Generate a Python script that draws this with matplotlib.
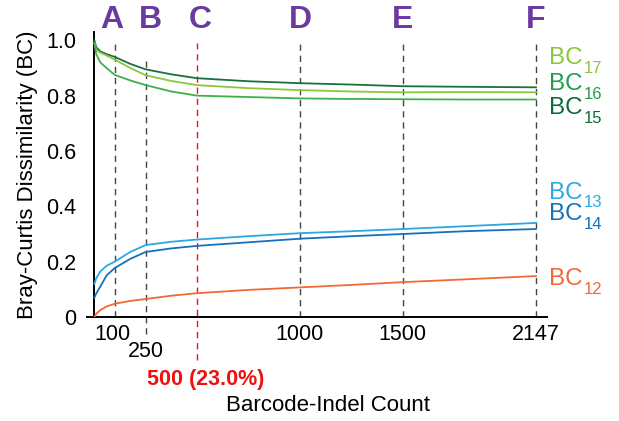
import matplotlib
matplotlib.use("Agg")
import matplotlib.pyplot as plt

plt.rcParams['font.family'] = ['Liberation Sans', 'DejaVu Sans']

# ---- data ----
counts = [1, 10, 30, 60, 100, 175, 250, 375, 500, 750, 1000, 1250, 1500, 1800, 2147]
bc_dark_green = [1.0, 0.975, 0.96, 0.95, 0.94, 0.915, 0.895, 0.877, 0.863, 0.852, 0.845, 0.84, 0.834, 0.832, 0.83]
bc_light_green = [0.99, 0.965, 0.955, 0.945, 0.93, 0.90, 0.874, 0.853, 0.838, 0.827, 0.82, 0.815, 0.812, 0.813, 0.812]
bc_mid_green = [0.99, 0.95, 0.92, 0.90, 0.875, 0.855, 0.838, 0.815, 0.80, 0.795, 0.79, 0.788, 0.787, 0.786, 0.786]
bc13 = [0.12, 0.14, 0.165, 0.185, 0.20, 0.235, 0.26, 0.272, 0.28, 0.292, 0.303, 0.31, 0.318, 0.328, 0.34]
bc14 = [0.07, 0.085, 0.11, 0.15, 0.177, 0.21, 0.235, 0.248, 0.257, 0.27, 0.283, 0.292, 0.30, 0.31, 0.318]
bc12 = [0.0, 0.012, 0.025, 0.038, 0.048, 0.058, 0.065, 0.077, 0.086, 0.098, 0.107, 0.116, 0.126, 0.136, 0.148]

cut_positions = [100, 250, 500, 1000, 1500, 2147]
cut_letters = ['A', 'B', 'C', 'D', 'E', 'F']
cut_labels = ['100', '250', '500 (23.0%)', '1000', '1500', '2147']
yticks = [0, 0.2, 0.4, 0.6, 0.8, 1.0]
ytick_labels = ['0', '0.2', '0.4', '0.6', '0.8', '1.0']

series = [
    (bc_dark_green, '#17703f'),
    (bc_light_green, '#8cc63e'),
    (bc_mid_green, '#3db04b'),
    (bc13, '#2aa9e0'),
    (bc14, '#1670bb'),
    (bc12, '#f26836'),
]
right_labels = [
    ('17', '#8cc63e', 0.913),
    ('16', '#1d9e4a', 0.821),
    ('15', '#0e6b37', 0.733),
    ('13', '#2aa9e0', 0.428),
    ('14', '#1670bb', 0.350),
    ('12', '#f26836', 0.1155),
]

fig = plt.figure(figsize=(6.19, 4.21), dpi=100)
ax = fig.add_axes([0.1405, 0.247, 0.743, 0.677])
ax.set_xlim(-35, 2200)
ax.set_ylim(0, 1.03)

dash = (0, (4.5, 3.5))
purple = '#6b3a9e'
red = '#f01010'
letter_dx = {'A': -15, 'B': 25, 'C': 15}
for x, letter in zip(cut_positions, cut_letters):
    is_red = (x == 500)
    col = red if is_red else '#444444'
    if letter == 'B':
        y0, y1 = -0.06, 0.93
    elif is_red:
        y0, y1 = -0.155, 0.99
    else:
        y0, y1 = 0, 0.99
    ax.plot([x, x], [y0, y1], color=col, lw=1.0, linestyle=dash, clip_on=False, zorder=1)
    ax.text(x + letter_dx.get(letter, 0), 1.072, letter, color=purple, fontsize=23,
            fontweight='bold', ha='center', va='center', clip_on=False)

for vals, col in series:
    ax.plot(counts, vals, color=col, lw=1.3, zorder=3)

main_fs = 17.4
x_off = 9.5
for sub, col, yb in right_labels:
    ax.annotate('BC', xy=(counts[-1], yb), xytext=(x_off, 0),
                textcoords='offset points', color=col, fontsize=main_fs,
                ha='left', va='baseline', annotation_clip=False)
    ax.annotate(sub, xy=(counts[-1], yb), xytext=(x_off + 1.389 * main_fs + 0.8, -6.3),
                textcoords='offset points', color=col, fontsize=12,
                ha='left', va='baseline', annotation_clip=False)

# x labels
label_offsets = {'100': (-10, -0.065), '250': (0, -0.126), '500 (23.0%)': (40, -0.227)}
for x, lab in zip(cut_positions, cut_labels):
    dx, yy = label_offsets.get(lab, (0, -0.065))
    is_red = lab.startswith('500')
    ax.text(x + dx, yy, lab, ha='center', va='center', clip_on=False,
            fontsize=15.5,
            color=red if is_red else 'black',
            fontweight='bold' if is_red else 'normal')
ax.text(1135, -0.318, 'Barcode-Indel Count', ha='center', va='center', fontsize=16, clip_on=False)

ax.set_xticks([])
ax.set_yticks(yticks)
ax.set_yticklabels(ytick_labels)
ax.tick_params(axis='y', length=0, pad=13, labelsize=15.5)
ax.set_ylabel('Bray-Curtis Dissimilarity (BC)', fontsize=16, labelpad=6)

for s in ['top', 'right']:
    ax.spines[s].set_visible(False)
ax.spines['left'].set_position(('data', 0))
ax.spines['left'].set_linewidth(1.4)
ax.spines['bottom'].set_linewidth(1.4)

fig.savefig('out.png', dpi=100)
